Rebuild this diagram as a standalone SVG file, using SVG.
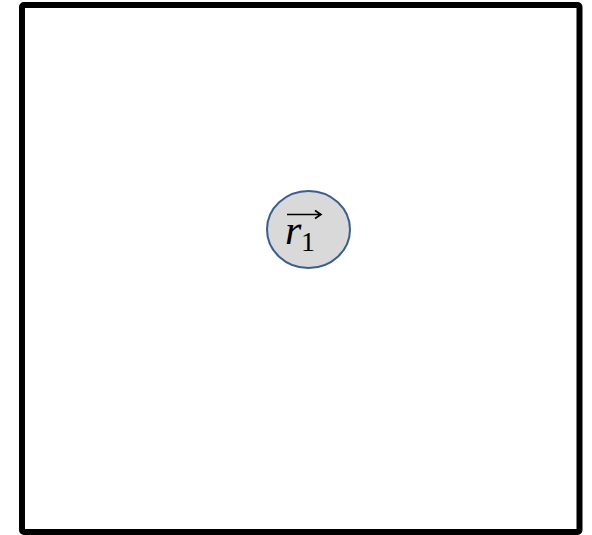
<svg xmlns="http://www.w3.org/2000/svg" width="592" height="535" viewBox="0 0 592 535">
<style>
.frame{fill:none;stroke:#000;stroke-width:6;stroke-linejoin:round}
.node{fill:#d9d9d9;stroke:#3a5f8f;stroke-width:2}
.math{font-family:"Liberation Serif","DejaVu Serif",serif;fill:#000}
</style>
<rect class="frame" x="22" y="5" width="557.5" height="527" rx="2"/>
<g id="node-r1">
<ellipse class="node" cx="308.5" cy="229.5" rx="41.5" ry="38.5"/>
<text class="math" x="285" y="244" font-size="42" font-style="italic">r</text>
<text class="math" x="301" y="251" font-size="28">1</text>
<path d="M287 214.5H320M315 210.5L321 214.5L315 218.5" fill="none" stroke="#000" stroke-width="1.6"/>
</g>
<g id="connectors"></g>
</svg>
